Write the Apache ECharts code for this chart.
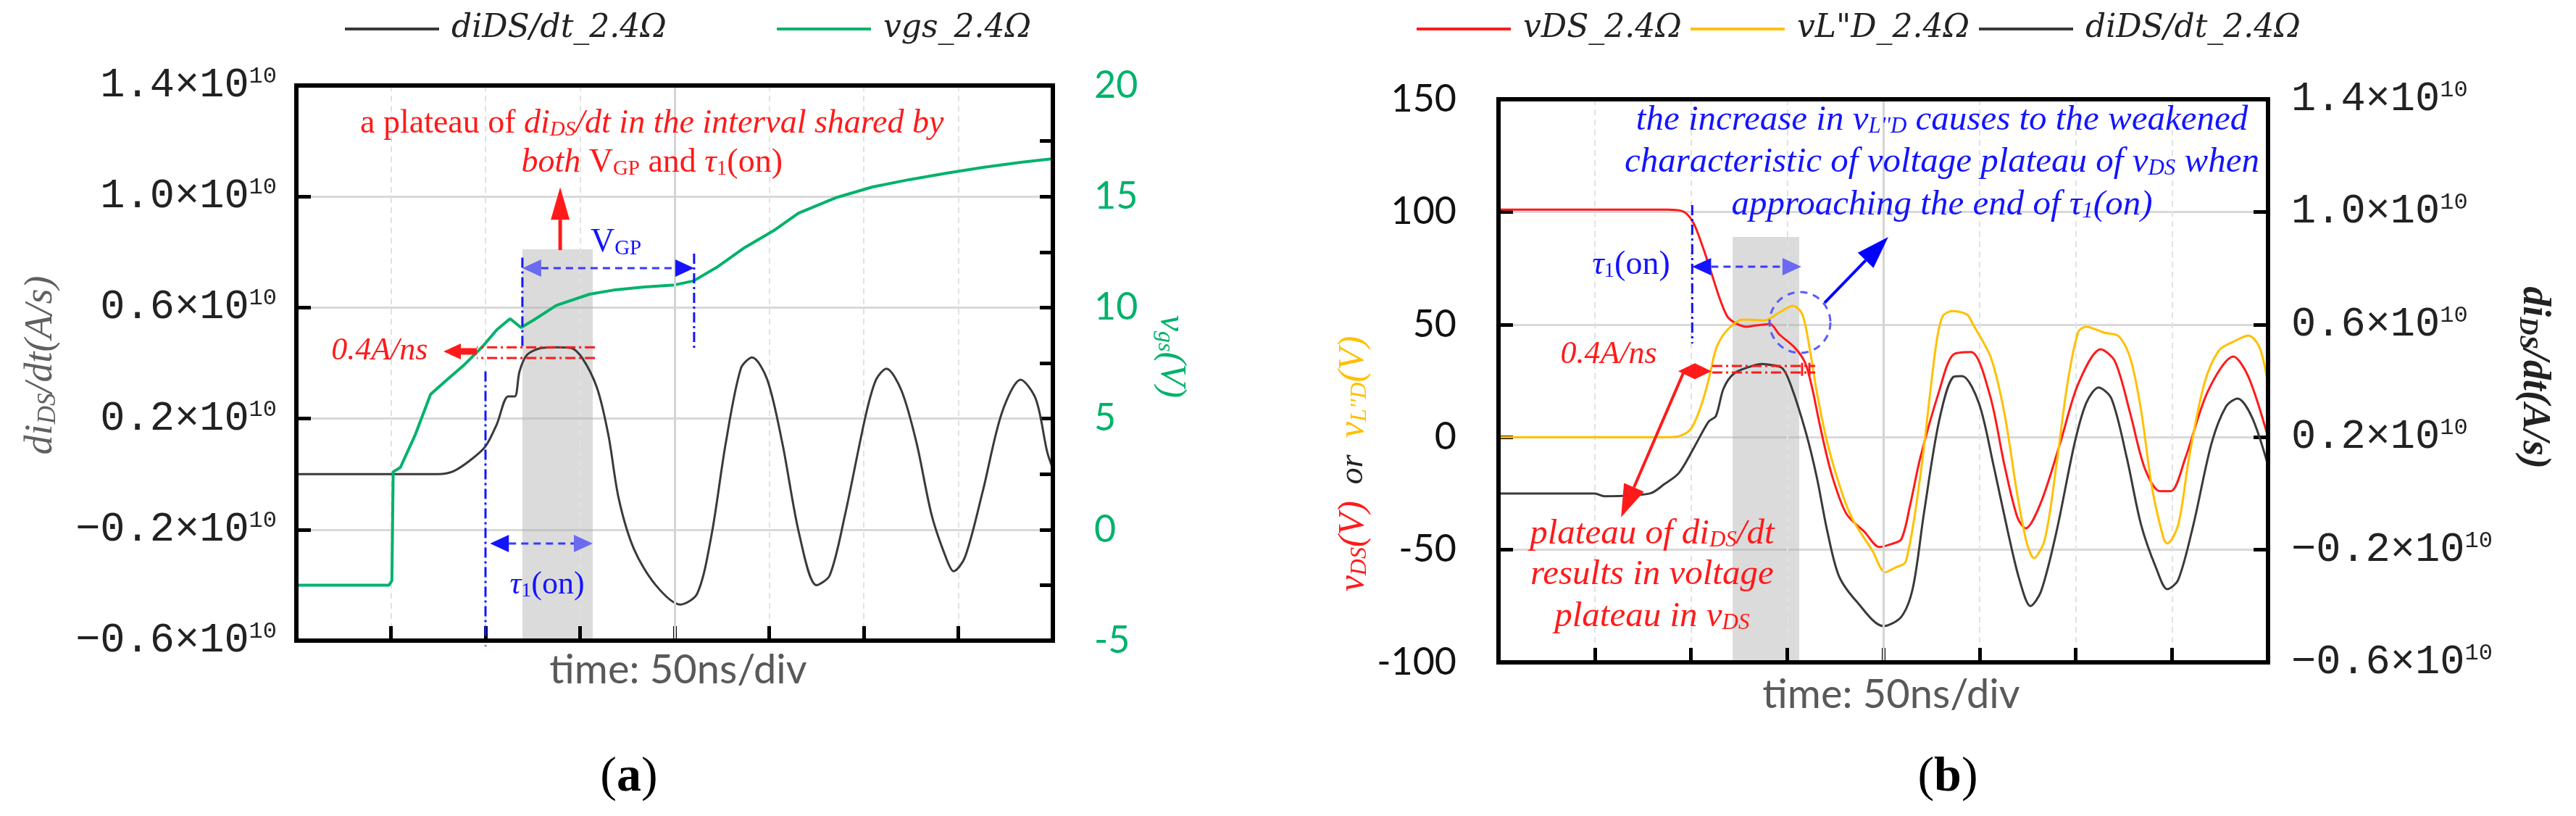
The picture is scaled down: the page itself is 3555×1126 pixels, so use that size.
<!DOCTYPE html>
<html>
<head>
<meta charset="utf-8">
<script src="https://cdn.jsdelivr.net/npm/echarts@6/dist/echarts.min.js"></script>
<style>
  html, body { margin: 0; padding: 0; background: #fff; }
  #main { width: 3555px; height: 1126px; }
</style>
</head>
<body>
<div id="main"></div>
<script>
// ---- data (time in ns, 50 ns/div) ----
// (a) diDS/dt, x10^10 A/s
const tA_di = [0, 60, 75, 83, 92, 100, 106, 112, 115.5, 118, 122, 130, 138, 145, 151, 159, 165, 170.5, 178.5, 190,
  203, 212, 219.5, 227, 235, 241, 249, 257, 266, 275, 282, 290, 301, 306.5, 312, 320, 328, 336, 344, 347.5,
  353.5, 363, 373, 383, 391, 397, 400];
const vA_di = [0, 0, 0, 0.01, 0.05, 0.10, 0.18, 0.28, 0.28, 0.37, 0.43, 0.455, 0.457, 0.455, 0.42, 0.31, 0.14, -0.09, -0.27, -0.40,
  -0.47, -0.43, -0.22, 0.11, 0.38, 0.42, 0.34, 0.11, -0.22, -0.40, -0.365, -0.15, 0.21, 0.34, 0.38, 0.30, 0.11, -0.15, -0.31, -0.35,
  -0.30, -0.06, 0.22, 0.34, 0.27, 0.08, 0.02];
// (a) vgs, V
const tA_vgs = [0, 49, 50.5, 51.2, 55, 63, 71, 79, 88.5, 98.5, 106, 113, 118.8, 125.7, 137.5, 155, 168.6, 184, 200, 210,
  223, 237, 253, 265.5, 285, 304.6, 324, 343.7, 363, 383, 400];
const vA_vgs = [-2.5, -2.5, -2.3, 2.6, 2.8, 4.3, 6.1, 6.7, 7.4, 8.25, 9.0, 9.5, 9.1, 9.45, 10.1, 10.6, 10.8, 10.93, 11.02, 11.2,
  11.85, 12.7, 13.5, 14.25, 14.94, 15.43, 15.76, 16.05, 16.31, 16.54, 16.7];
// (b) vDS, V
const tB_vds = [0, 88, 95, 98, 101, 103.5, 107, 111, 115, 119, 123.2, 128.8, 133, 138.6, 141, 146.1, 153.7, 159.3, 163.1, 167,
  173, 180.8, 190.2, 198, 204, 209.4, 214, 219.2, 229, 236.5, 245.6, 255.4, 263, 269.7, 274, 282, 291.9, 301.3, 313, 320.5,
  328.4, 336, 343.9, 349.5, 357, 368.7, 382, 389.8, 400];
const vB_vds = [101, 101, 100.5, 99, 95.6, 90.8, 82.4, 72, 61.5, 53.5, 50.6, 49, 49.5, 50, 50.3, 45.5, 40, 33.2, 21.6, 5.5,
  -16, -34, -42, -48.8, -47.5, -45.3, -30, -9.3, 20.3, 36.7, 37.8, 18.7, -12.5, -35.6, -40.5, -28.9, -2.8, 23.6, 39, 33.5,
  10.4, -14, -24, -24, -9.3, 20.3, 35.8, 26.8, 0];
// (b) vL''D, V
const tB_vl = [0, 88, 94.2, 100.2, 105.8, 109.6, 113.4, 119.4, 127, 134, 138.6, 146.1, 152.9, 157.8, 161.6, 165.4, 171, 178.9, 184.6, 194.4,
  201, 206, 211.7, 219.2, 224.9, 228, 231, 236, 243.6, 246.7, 256, 263, 269.7, 274.6, 278.3, 284, 290, 295.7, 301.3, 305.5,
  314.9, 322.4, 328.4, 334, 339.7, 345.8, 347.6, 353.3, 358.9, 366.8, 374.4, 382.3, 389.8, 395.5, 400];
const vB_vl = [0, 0, 0.5, 3.9, 15.2, 26.8, 40, 48, 52.2, 52, 51.9, 55.4, 58.3, 54.8, 40, 20.3, -2.8, -25.7, -37.3, -50.5,
  -60, -58, -55.3, -17.6, 23.6, 44, 53.8, 56, 54.4, 50, 35.1, 10.4, -25.7, -46.9, -53.7, -45.3, -12.5, 23.6, 46.6, 49,
  46.4, 44.8, 35.1, 12, -22.5, -45.3, -47.2, -38.9, -9.3, 23.6, 38.4, 42.5, 45.1, 40, 23.6];
// (b) diDS/dt, x10^10 A/s
const tB_di = [0, 50, 55, 78.7, 86.2, 93.7, 101.7, 109.2, 113, 117, 122.6, 132, 136.7, 140, 147.5, 152.2, 159.7, 165.4, 171, 177,
  186.4, 200, 209.4, 215.4, 221.1, 229, 236.5, 241, 249.7, 257.3, 264.8, 270.8, 276.5, 282, 290, 299.4, 305.5, 311.9, 318.6, 326.6,
  334, 342, 347.6, 353.3, 361.2, 370.6, 378.2, 384.2, 391.7, 400];
const vB_di = [0, 0, -0.01, 0, 0.033, 0.072, 0.164, 0.255, 0.275, 0.373, 0.427, 0.453, 0.46, 0.458, 0.445, 0.38, 0.218, 0.059, -0.137, -0.294,
  -0.386, -0.471, -0.438, -0.335, -0.072, 0.257, 0.414, 0.417, 0.321, 0.10, -0.137, -0.307, -0.40, -0.348, -0.137, 0.177, 0.321, 0.376, 0.337, 0.126,
  -0.111, -0.268, -0.34, -0.307, -0.111, 0.177, 0.309, 0.337, 0.27, 0.10];

// axis ticks
const timeTicks = [0, 400, 50];        // min, max, step (ns)
const diTicks = [-0.6, 1.4, 0.4];      // x10^10 A/s
const vgsTicks = [-5, 20, 2.5];
const vTicks = [-100, 150, 50];

const SERIF = "'Liberation Serif', 'DejaVu Serif', serif";
const WSERIF = "'DejaVu Serif', 'Liberation Serif', serif";
const MONO = "'Liberation Mono', 'DejaVu Sans Mono', monospace";
const SANS = "Lato, 'Open Sans', sans-serif";
const GREEN = '#00b26b', RED = '#ff1a1a', YEL = '#ffc000', BLK = '#3a3a3a', BLUE = '#1414ff', LBLUE = '#6a6af2';

const zip = (ts, vs) => ts.map((t, i) => [t, vs[i]]);

function sciLabel(v) {
  const s = (v < -1e-9 ? '−' : '') + Math.abs(v).toFixed(1);
  return '{m|' + s + '×10}{s|10}';
}
const sciRich = {
  m: { fontFamily: MONO, fontSize: 57, color: '#222' },
  s: { fontFamily: MONO, fontSize: 32, color: '#222', verticalAlign: 'top' }
};

const tickStyle = (len) => ({ show: true, inside: true, length: len, lineStyle: { color: '#000', width: 5 } });
const noLine = { show: false, onZero: false };
const hGrid = { show: true, lineStyle: { color: '#d9d9d9', width: 3 } };
const vGrid = { show: true, lineStyle: { color: '#e2e2e2', width: 2, type: [8, 6] } };

function legendAt(left, name) {
  return {
    data: [name], left: left, top: 18, padding: 0, icon: 'rect', itemWidth: 130, itemHeight: 4,
    selectedMode: false,
    textStyle: { fontFamily: WSERIF, fontStyle: 'italic', fontSize: 44, color: '#222', padding: [0, 0, 0, 12] }
  };
}

function xAxisFor(grid) {
  return {
    gridIndex: grid, type: 'value', position: 'bottom', z: 2, min: timeTicks[0], max: timeTicks[1], interval: timeTicks[2],
    axisLine: noLine, axisTick: tickStyle(20), axisLabel: { show: false }, splitLine: vGrid
  };
}

// host series for the grey shaded band and the solid centre line
function bandSeries(xi, yi, t0, t1, y0, y1) {
  return {
    type: 'line', xAxisIndex: xi, yAxisIndex: yi, data: [], z: 1, silent: true,
    markArea: { silent: true, itemStyle: { color: 'rgba(170,170,170,0.42)' }, data: [[{ coord: [t0, y0] }, { coord: [t1, y1] }]] },
    markLine: { silent: true, symbol: ['none', 'none'], label: { show: false },
      lineStyle: { color: '#d4d4d4', width: 3, type: 'solid' }, data: [{ xAxis: 200 }] }
  };
}

function lineSeries(name, xi, yi, data, color, width, smooth) {
  return {
    name: name, type: 'line', xAxisIndex: xi, yAxisIndex: yi, data: data, showSymbol: false, symbol: 'none',
    smooth: smooth, z: 3, itemStyle: { color: color }, lineStyle: { color: color, width: width }
  };
}

const chart = echarts.init(document.getElementById('main'));

const option = {
  animation: false,
  backgroundColor: '#fff',
  legend: [
    legendAt(476, 'diDS/dt_2.4Ω'),
    legendAt(1072, 'vgs_2.4Ω'),
    legendAt(1955, 'vDS_2.4Ω'),
    legendAt(2333, 'vL"D_2.4Ω'),
    legendAt(2731, 'diDS/dt_2.4Ω ')
  ],
  grid: [
    { left: 409, top: 118, width: 1044, height: 766, outerBoundsMode: 'none' },
    { left: 2068, top: 137, width: 1062, height: 777, outerBoundsMode: 'none' }
  ],
  xAxis: [xAxisFor(0), xAxisFor(1)],
  yAxis: [
    { gridIndex: 0, type: 'value', position: 'left', min: diTicks[0], max: diTicks[1], interval: diTicks[2],
      axisLine: noLine, axisTick: tickStyle(20), splitLine: hGrid,
      axisLabel: { margin: 27, formatter: sciLabel, rich: sciRich } },
    { gridIndex: 0, type: 'value', position: 'right', min: vgsTicks[0], max: vgsTicks[1], interval: vgsTicks[2],
      axisLine: noLine, axisTick: tickStyle(18), splitLine: { show: false },
      axisLabel: { margin: 57, color: GREEN, fontFamily: SANS, fontSize: 52,
        formatter: v => (Math.abs(v % 5) < 1e-9 ? String(v) : '') } },
    { gridIndex: 1, type: 'value', position: 'left', min: vTicks[0], max: vTicks[1], interval: vTicks[2],
      axisLine: noLine, axisTick: tickStyle(20), splitLine: hGrid,
      axisLabel: { margin: 58, color: '#111', fontFamily: SANS, fontSize: 52 } },
    { gridIndex: 1, type: 'value', position: 'right', min: diTicks[0], max: diTicks[1], interval: diTicks[2],
      axisLine: noLine, axisTick: tickStyle(20), splitLine: { show: false },
      axisLabel: { margin: 32, formatter: sciLabel, rich: sciRich } }
  ],
  series: [
    bandSeries(0, 0, 119.5, 156.7, -0.6, 0.81),
    lineSeries('diDS/dt_2.4Ω', 0, 0, zip(tA_di, vA_di), BLK, 3, 0.3),
    lineSeries('vgs_2.4Ω', 0, 1, zip(tA_vgs, vA_vgs), GREEN, 4, false),
    bandSeries(1, 2, 121.7, 156.3, -100, 88.9),
    lineSeries('vDS_2.4Ω', 1, 2, zip(tB_vds, vB_vds), RED, 3, 0.3),
    lineSeries('vL"D_2.4Ω', 1, 2, zip(tB_vl, vB_vl), YEL, 3, 0.3),
    lineSeries('diDS/dt_2.4Ω ', 1, 3, zip(tB_di, vB_di), BLK, 3, 0.3)
  ]
};
chart.setOption(option);

// ---- annotations, positioned in data coordinates ----
const pa = (t, v) => chart.convertToPixel({ xAxisIndex: 0, yAxisIndex: 0 }, [t, v]);
const pb = (t, v) => chart.convertToPixel({ xAxisIndex: 1, yAxisIndex: 2 }, [t, v]);
const DASHDOT = [14, 5, 3, 5];

function seg(p0, p1, color, width, dash) {
  return { type: 'line', z: 20, silent: true,
    shape: { x1: p0[0], y1: p0[1], x2: p1[0], y2: p1[1] },
    style: { stroke: color, lineWidth: width, lineDash: dash || null } };
}
function head(tip, from, len, w, color) {
  const dx = tip[0] - from[0], dy = tip[1] - from[1], L = Math.hypot(dx, dy);
  const ux = dx / L, uy = dy / L, bx = tip[0] - ux * len, by = tip[1] - uy * len;
  return { el: { type: 'polygon', z: 21, silent: true,
      shape: { points: [[tip[0], tip[1]], [bx - uy * w / 2, by + ux * w / 2], [bx + uy * w / 2, by - ux * w / 2]] },
      style: { fill: color } }, base: [bx, by] };
}
function arrow(p0, p1, color, width, len, w) {
  const h = head(p1, p0, len, w, color);
  return [seg(p0, h.base, color, width), h.el];
}
function dblArrow(p0, p1, c0, c1, lineColor, len, w) {
  const h0 = head(p0, p1, len, w, c0), h1 = head(p1, p0, len, w, c1);
  return [seg(h0.base, h1.base, lineColor, 3, [10, 7]), h0.el, h1.el];
}
function rtext(p, text, rich, opt) {
  opt = opt || {};
  return { type: 'text', z: 22, silent: true, x: p[0], y: p[1], rotation: opt.rotation || 0,
    style: { text: text, rich: rich, align: opt.align || 'center', verticalAlign: 'middle',
      textAlign: opt.align || 'center', textVerticalAlign: 'middle',
      fontFamily: SERIF, fontSize: 44, fill: opt.fill || '#000' } };
}
function richSet(size, color, italic, weight) {
  const sub = Math.round(size * 0.64);
  const st = italic ? 'italic' : 'normal';
  const w = weight || 'normal';
  return {
    n: { fontFamily: SERIF, fontSize: size, fill: color, color: color, fontWeight: w },
    i: { fontFamily: SERIF, fontSize: size, fill: color, color: color, fontStyle: 'italic', fontWeight: w },
    m: { fontFamily: SERIF, fontSize: size, fill: color, color: color, fontStyle: st, fontWeight: w },
    s: { fontFamily: SERIF, fontSize: sub, fill: color, color: color, fontStyle: st, fontWeight: w, verticalAlign: 'bottom' },
    si: { fontFamily: SERIF, fontSize: sub, fill: color, color: color, fontStyle: 'italic', fontWeight: w, verticalAlign: 'bottom' }
  };
}

function buildGraphics() {
  const g = [];
  // frames
  [[pa(0, 1.4), pa(400, -0.6)], [pb(0, 150), pb(400, -100)]].forEach(function (c) {
    g.push({ type: 'rect', z: 30, silent: true,
      shape: { x: c[0][0], y: c[0][1], width: c[1][0] - c[0][0], height: c[1][1] - c[0][1] },
      style: { fill: 'rgba(0,0,0,0)', stroke: '#000', lineWidth: 6 } });
  });

  // ---------- (a) ----------
  g.push(seg(pa(100, 0.37), pa(100, -0.62), BLUE, 3, DASHDOT));
  g.push(seg(pa(119.5, 0.78), pa(119.5, 0.46), BLUE, 3, DASHDOT));
  g.push(seg(pa(210.3, 0.794), pa(210.3, 0.442), BLUE, 3, DASHDOT));
  g.push.apply(g, dblArrow(pa(119.5, 0.742), pa(210.3, 0.742), LBLUE, BLUE, '#3a3aff', 26, 24));
  g.push.apply(g, dblArrow(pa(102.4, -0.25), pa(156.7, -0.25), BLUE, LBLUE, '#3a3aff', 26, 24));
  g.push(rtext(pa(169, 0.833), '{n|V}{s|GP}', richSet(46, BLUE, false)));
  g.push(rtext(pa(132.6, -0.40), '{i|τ}{s|1}{n|(on)}', richSet(44, BLUE, false)));
  // 0.4 A/ns marker
  g.push(seg(pa(157.9, 0.457), pa(95.4, 0.457), RED, 3, DASHDOT));
  g.push(seg(pa(157.9, 0.418), pa(95.4, 0.418), RED, 3, DASHDOT));
  g.push.apply(g, arrow(pa(95.4, 0.442), pa(77.8, 0.442), RED, 9, 24, 22));
  g.push(rtext(pa(44, 0.442), '{i|0.4A/ns}', richSet(44, RED, true)));
  g.push.apply(g, arrow(pa(139.5, 0.807), pa(139.5, 1.034), RED, 5, 45, 26));
  g.push(rtext(pa(188, 1.262), '{n|a plateau of }{i|di}{si|DS}{i|/dt in the interval shared by}', richSet(46, RED, false)));
  g.push(rtext(pa(188, 1.12), '{i|both }{n|V}{s|GP}{n| and }{i|τ}{s|1}{n|(on)}', richSet(46, RED, false)));

  // ---------- (b) ----------
  g.push(seg(pb(100.7, 103), pb(100.7, 41.6), BLUE, 3, DASHDOT));
  g.push.apply(g, dblArrow(pb(100.7, 75.7), pb(157.4, 75.7), BLUE, LBLUE, '#3a3aff', 26, 24));
  g.push(rtext(pb(68.9, 76.3), '{i|τ}{s|1}{n|(on)}', richSet(46, BLUE, false)));
  const cc = pb(156.7, 50.9);
  g.push({ type: 'circle', z: 20, silent: true, shape: { cx: cc[0], cy: cc[1], r: 42 },
    style: { fill: 'rgba(0,0,0,0)', stroke: '#5a5aff', lineWidth: 3, lineDash: [10, 8] } });
  g.push.apply(g, arrow(pb(169.5, 59.6), pb(202.6, 88.9), '#0000ff', 4, 45, 30));
  g.push(rtext(pb(230.5, 140.7), '{i|the increase in v}{si|L\'\'D}{i| causes to the weakened}', richSet(49, BLUE, true)));
  g.push(rtext(pb(230.5, 122), '{i|characteristic of voltage plateau of v}{si|DS}{i| when}', richSet(49, BLUE, true)));
  g.push(rtext(pb(230.5, 103), '{i|approaching the end of τ}{si|1}{i|(on)}', richSet(49, BLUE, true)));
  // 0.4 A/ns marker
  g.push(seg(pb(111.1, 31.6), pb(164.6, 31.6), RED, 3, DASHDOT));
  g.push(seg(pb(111.1, 28.7), pb(164.6, 28.7), RED, 3, DASHDOT));
  [157.8, 161.6].forEach(function (t) {
    const p = pb(t, 30.1);
    g.push(seg([p[0], p[1] - 9], [p[0], p[1] + 9], RED, 3));
  });
  const dL = pb(93.4, 29.3), dR = pb(110.7, 29.3);
  const dm = (dL[0] + dR[0]) / 2;
  g.push({ type: 'polygon', z: 21, silent: true,
    shape: { points: [[dL[0], dL[1]], [dm, dL[1] - 11], [dR[0], dR[1]], [dm, dL[1] + 11]] }, style: { fill: RED } });
  g.push(rtext(pb(57.3, 36.7), '{i|0.4A/ns}', richSet(44, RED, true)));
  g.push.apply(g, arrow(pb(96, 28.4), pb(63.7, -35.6), RED, 4, 45, 30));
  g.push(rtext(pb(79.8, -43), '{i|plateau of di}{si|DS}{i|/dt}', richSet(49, RED, true)));
  g.push(rtext(pb(79.8, -61), '{i|results in voltage}', richSet(49, RED, true)));
  g.push(rtext(pb(79.8, -79.7), '{i|plateau in v}{si|DS}', richSet(49, RED, true)));

  // ---------- axis names and captions ----------
  g.push(rtext([57, 504], '{i|di}{si|DS}{i|/dt(A/s)}', richSet(54, '#606060', true), { rotation: Math.PI / 2 }));
  g.push(rtext([1616, 492], '{i|v}{si|gs}{i|(V)}', richSet(50, GREEN, true), { rotation: -Math.PI / 2 }));
  const bl = {
    r: { fontFamily: SERIF, fontSize: 50, fill: RED, fontStyle: 'italic' },
    rs: { fontFamily: SERIF, fontSize: 32, fill: RED, fontStyle: 'italic', verticalAlign: 'bottom' },
    o: { fontFamily: SERIF, fontSize: 46, fill: '#222', fontStyle: 'italic' },
    y: { fontFamily: SERIF, fontSize: 50, fill: YEL, fontStyle: 'italic' },
    ys: { fontFamily: SERIF, fontSize: 32, fill: YEL, fontStyle: 'italic', verticalAlign: 'bottom' }
  };
  g.push(rtext([1868, 640], '{r|v}{rs|DS}{r|(V)}{o|  or  }{y|v}{ys|L\'\'D}{y|(V)}', bl, { rotation: Math.PI / 2 }));
  g.push(rtext([3497, 521], '{i|di}{si|DS}{i|/dt(A/s)}', richSet(54, '#222', true, 'bold'), { rotation: -Math.PI / 2 }));

  const tl = { t: { fontFamily: SANS, fontSize: 56, fill: '#595959' } };
  g.push(rtext([936, 925], '{t|time: 50ns/div}', tl));
  g.push(rtext([2610, 959], '{t|time: 50ns/div}', tl));
  const cap = {
    p: { fontFamily: SERIF, fontSize: 68, fill: '#000' },
    b: { fontFamily: SERIF, fontSize: 68, fill: '#000', fontWeight: 'bold' }
  };
  g.push(rtext([868, 1073], '{p|(}{b|a}{p|)}', cap));
  g.push(rtext([2688, 1073], '{p|(}{b|b}{p|)}', cap));

  chart.setOption({ graphic: g });
}
buildGraphics();
</script>
</body>
</html>
